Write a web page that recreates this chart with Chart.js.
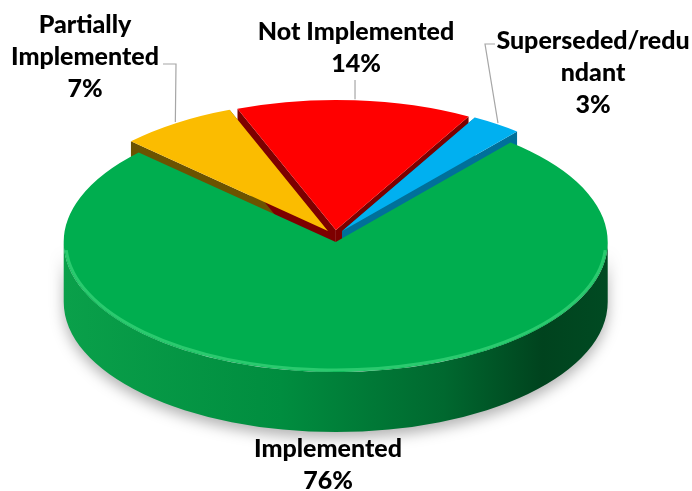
<!DOCTYPE html>
<html>
<head>
<meta charset="utf-8">
<script src="https://cdn.jsdelivr.net/npm/chart.js@4.4.0/dist/chart.umd.min.js"></script>
<style>
    html, body { margin: 0; padding: 0; background: #fff; }
    #wrap { width: 692px; height: 491px; }
</style>
</head>
<body>
<div id="wrap"><canvas id="graficoPizza"></canvas></div>
<script>
// dados
const categorias = ["Implemented", "Partially Implemented", "Not Implemented", "Superseded/redundant"];
const percentuais = [76, 7, 14, 3];
const rotulos = [
    ["Implemented", "76%"],
    ["Partially", "Implemented", "7%"],
    ["Not Implemented", "14%"],
    ["Superseded/redu", "ndant", "3%"]
];
const coresTopo = ["#00AE4F", "#FBBC00", "#FF0000", "#00B0F0"];
const coresLado = ["#00662e", "#6b5300", "#7d0000", "#00709a"];

// elipse do topo (em px da tela) e profundidade
const CX = 335, CY = 236, RX = 272, RY = 130, PROF = 60, EXPL = 11;
const posRotulos = [
    { x: 328, y: 457 },
    { x: 85, y: 33 },
    { x: 356, y: 40 },
    { x: 593, y: 49 }
];
const ENTRELINHA = 32;

function pontoBorda(chart, i) {
    const arc = chart.getDatasetMeta(0).data[i];
    const R = arc.outerRadius;
    const m = (arc.startAngle + arc.endAngle) / 2;
    const r = R + EXPL + 2;
    return { x: CX + Math.cos(m) * r * RX / R, y: CY + Math.sin(m) * r * RY / R };
}

const pizza3d = {
    id: "pizza3d",
    beforeDatasetsDraw(chart) {
        const ctx = chart.ctx;
        const arcs = chart.getDatasetMeta(0).data;
        const R = arcs[0].outerRadius, ox = arcs[0].x, oy = arcs[0].y;
        const sx = RX / R, sy = RY / R;
        const d = PROF / sy;
        ctx.save();
        ctx.translate(CX, CY);
        ctx.scale(sx, sy);
        ctx.translate(-ox, -oy);

        const desloca = arc => {
            const meio = (arc.startAngle + arc.endAngle) / 2;
            ctx.translate(Math.cos(meio) * EXPL, Math.sin(meio) * EXPL);
        };

        // 1a passada: faces laterais
        arcs.forEach((arc, i) => {
            const a0 = arc.startAngle, a1 = arc.endAngle;
            ctx.save();
            desloca(arc);
            [a0, a1].forEach(a => {
                ctx.beginPath();
                ctx.moveTo(ox, oy);
                ctx.lineTo(ox + R * Math.cos(a), oy + R * Math.sin(a));
                ctx.lineTo(ox + R * Math.cos(a), oy + R * Math.sin(a) + d);
                ctx.lineTo(ox, oy + d);
                ctx.closePath();
                ctx.fillStyle = coresLado[i];
                ctx.fill();
            });
            for (let k = -1; k <= 1; k++) {
                const lo = Math.max(a0, 2 * Math.PI * k);
                const hi = Math.min(a1, 2 * Math.PI * k + Math.PI);
                if (hi <= lo) continue;
                const grad = ctx.createLinearGradient(ox - R, 0, ox + R, 0);
                grad.addColorStop(0, "#0aa04a");
                grad.addColorStop(0.4, "#008d3f");
                grad.addColorStop(0.7, "#00682f");
                grad.addColorStop(0.88, "#00431e");
                grad.addColorStop(1, "#004a22");
                ctx.save();
                ctx.shadowColor = "rgba(0,0,0,0.3)";
                ctx.shadowBlur = 14;
                ctx.shadowOffsetY = 6;
                ctx.beginPath();
                ctx.arc(ox, oy, R, lo, hi);
                ctx.arc(ox, oy + d, R, hi, lo, true);
                ctx.closePath();
                ctx.fillStyle = i === 0 ? grad : coresLado[i];
                ctx.fill();
                ctx.restore();
            }
            ctx.restore();
        });

        // 2a passada: topos
        arcs.forEach(arc => {
            ctx.save();
            desloca(arc);
            arc.draw(ctx);
            ctx.restore();
        });
        ctx.restore();

        // brilho na borda do topo
        const g = arcs[0];
        const mg = (g.startAngle + g.endAngle) / 2;
        const gx = CX + Math.cos(mg) * EXPL * sx, gy = CY + Math.sin(mg) * EXPL * sy;
        ctx.save();
        ctx.beginPath();
        ctx.ellipse(gx, gy, RX - 2, RY - 2, 0, 0.02 * Math.PI, 0.98 * Math.PI);
        ctx.strokeStyle = "rgba(120,255,170,0.35)";
        ctx.lineWidth = 3;
        ctx.stroke();
        ctx.restore();
        return false;
    },
    afterDraw(chart) {
        const ctx = chart.ctx;
        ctx.save();
        // linhas guia
        ctx.strokeStyle = "#a6a6a6";
        ctx.lineWidth = 1.2;
        const guias = { 1: [[163, 64], [176, 64]], 2: [], 3: [[495, 44], [485, 44]] };
        Object.keys(guias).forEach(k => {
            const i = Number(k);
            const fim = pontoBorda(chart, i);
            const pts = guias[i].length ? guias[i] : [[fim.x, 80]];
            ctx.beginPath();
            ctx.moveTo(pts[0][0], pts[0][1]);
            pts.slice(1).forEach(p => ctx.lineTo(p[0], p[1]));
            ctx.lineTo(fim.x, fim.y);
            ctx.stroke();
        });
        // rotulos
        ctx.fillStyle = "#000";
        ctx.font = "900 25px Lato";
        ctx.textAlign = "center";
        ctx.textBaseline = "alphabetic";
        rotulos.forEach((linhas, i) => {
            linhas.forEach((t, j) => {
                ctx.fillText(t, posRotulos[i].x, posRotulos[i].y + j * ENTRELINHA);
            });
        });
        ctx.restore();
    }
};

const ctx = document.getElementById("graficoPizza").getContext("2d");
new Chart(ctx, {
    type: "pie",
    data: {
        labels: categorias,
        datasets: [{
            data: percentuais,
            backgroundColor: coresTopo,
            borderWidth: 0
        }]
    },
    options: {
        responsive: true,
        maintainAspectRatio: false,
        animation: false,
        rotation: 40,
        layout: { padding: 10 },
        plugins: {
            legend: { display: false },
            tooltip: { enabled: false }
        }
    },
    plugins: [pizza3d]
});
</script>
</body>
</html>
